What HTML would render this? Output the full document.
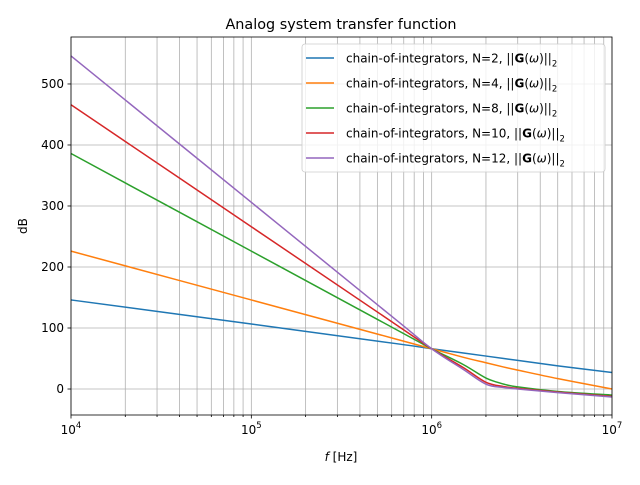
<!DOCTYPE html>
<html><head><meta charset="utf-8"><style>
body{margin:0;background:#fff;}
svg text{font-family:"DejaVu Sans","Liberation Sans",sans-serif;}
</style></head><body>
<svg id="chart" width="640" height="480" xmlns="http://www.w3.org/2000/svg">
<rect width="640" height="480" fill="#fff"/>
<g id="grid"></g>
<g id="series"></g>
<g id="axes"></g>
<text x="341" y="29" font-size="14.4" text-anchor="middle">Analog system transfer function</text>
<text x="341" y="461" font-size="12" text-anchor="middle"><tspan font-style="italic">f</tspan> [Hz]</text>
<text x="27" y="226" font-size="12" text-anchor="middle" transform="rotate(-90 27 226)">dB</text>
<g id="legend"></g>
</svg>
<script>
const logFreqs=[4,5,5.8,6,6.176,6.301,6.4,6.477,6.7,7];
const seriesNames=["N=2","N=4","N=8","N=10","N=12"];
const seriesN2=[146,106.5,74.5,66,59,54,50,47,38,27];
const seriesN4=[226,146,82,66,52,43,36,31,17,0];
const seriesN8=[386,226,98,66,40,18,8,3.5,-4,-10];
const seriesN10=[466,266,106,66,35,11,4,1,-5,-12];
const seriesN12=[546,306,114,66,32,8,2.5,0,-6,-13];
const yTicks=[0,100,200,300,400,500];
const xDecades=[4,5,6,7];
const colors=["#1f77b4","#ff7f0e","#2ca02c","#d62728","#9467bd"];
const L=71,R=612,T=37,B=415,ymin=-42.6,ymax=577;
const sx=v=>L+(v-4)/3*(R-L);
const sy=v=>B-(v-ymin)/(ymax-ymin)*(B-T);
const NS="http://www.w3.org/2000/svg";
function mk(tag,attrs,parent){const e=document.createElementNS(NS,tag);for(const k in attrs)e.setAttribute(k,attrs[k]);parent.appendChild(e);return e;}
const grid=document.getElementById('grid'),axes=document.getElementById('axes'),ser=document.getElementById('series'),leg=document.getElementById('legend');
xDecades.forEach((d,i)=>{
  for(let m=1;m<=9;m++){const v=d+Math.log10(m);if(v>7.0001)break;
    const x=sx(v);
    const g=mk('line',{x1:x,x2:x,y1:T,y2:B,stroke:'#b0b0b0','stroke-width':0.8},grid);
    
    
    const t=mk('line',{x1:x,x2:x,y1:B,y2:B+(m==1?3.5:2),stroke:'#000','stroke-width':0.8},axes);
    
    
  }
  const lb=mk('text',{x:sx(d),y:B+19,'font-size':12,'text-anchor':'middle'},axes);
  
  
  lb.innerHTML='10<tspan dy="-6" font-size="8.5">'+d+'</tspan>';
});
yTicks.forEach(v=>{const y=sy(v);
  const g=mk('line',{x1:L,x2:R,y1:y,y2:y,stroke:'#b0b0b0','stroke-width':0.8},grid);
  
  
  const t=mk('line',{x1:L-3.5,x2:L,y1:y,y2:y,stroke:'#000','stroke-width':0.8},axes);
  
  
  const lb=mk('text',{x:L-7,y:y+4,'font-size':12,'text-anchor':'end'},axes);
  
  
  lb.textContent=v;
});
const fr=mk('rect',{x:L,y:T,width:R-L,height:B-T,fill:'none',stroke:'#000','stroke-width':0.8},axes);


const allSeries=[seriesN2,seriesN4,seriesN8,seriesN10,seriesN12];
function pathFor(vals){
  const p=vals.map((v,i)=>[sx(logFreqs[i]),sy(v)]);
  let d='M'+p[0][0]+','+p[0][1];
  for(let i=0;i<p.length-1;i++){
    const p0=p[Math.max(0,i-1)],p1=p[i],p2=p[i+1],p3=p[Math.min(p.length-1,i+2)];
    const c1=[p1[0]+(p2[0]-p0[0])/6,p1[1]+(p2[1]-p0[1])/6];
    const c2=[p2[0]-(p3[0]-p1[0])/6,p2[1]-(p3[1]-p1[1])/6];
    d+=' C'+c1+' '+c2+' '+p2;
  }
  return d;
}
allSeries.forEach((vals,i)=>{
  const pth=mk('path',{d:pathFor(vals),fill:'none',stroke:colors[i],'stroke-width':1.5},ser);
  
  
});
const lbx=mk('rect',{x:302,y:44,width:303,height:128,rx:3,fill:'#fff','fill-opacity':0.8,stroke:'#ccc','stroke-width':0.8},leg);


seriesNames.forEach((n,i)=>{const y=58+i*25;
  const g=mk('g',{},leg);
  
  
  mk('line',{x1:306,x2:334,y1:y,y2:y,stroke:colors[i],'stroke-width':1.5},g);
  const t=mk('text',{x:346,y:y+4.5,'font-size':12},g);
  t.innerHTML='chain-of-integrators, '+n+', ||<tspan font-weight="bold">G</tspan>(<tspan font-style="italic">ω</tspan>)||<tspan dy="4" font-size="8.5">2</tspan>';
});
</script>
</body></html>
